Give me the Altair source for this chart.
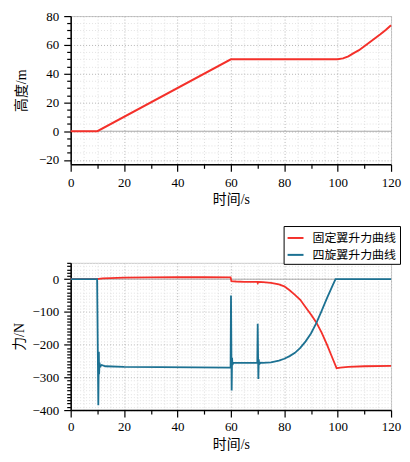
import altair as alt
import pandas as pd

# ---------------- data ----------------
t_alt = [0, 10, 60, 100, 102, 104, 106, 108, 110, 112, 114, 116, 118, 120]
h_alt = [0, 0, 50, 50, 50.6, 52.0, 54.2, 56.3, 59.0, 61.8, 64.6, 67.4, 70.4, 73.6]

series_names = ["固定翼升力曲线", "四旋翼升力曲线"]
series_colors = ["#f4302a", "#1c7192"]

t_fw = [0, 10, 10.5, 12, 15, 20, 30, 40, 50, 59.9, 60.2, 62, 65, 69.9, 70.1, 70.4,
        72, 75, 78, 80, 82, 84, 86, 88, 90, 92, 94, 96, 98, 99.6, 101, 104, 110, 120]
f_fw = [0, 0, 1, 2.5, 3.5, 4.5, 5.5, 6, 6, 5.5, -6, -7, -8, -8, -12, -8,
        -9, -11, -16, -22, -34, -48, -63, -86, -108, -132, -163, -200, -240, -272, -270, -268, -266, -265]

t_qr = [0, 9.9, 10.35, 10.55, 10.65, 10.8, 11.0, 11.6, 13, 20, 59.9, 60.05, 60.3, 60.45, 60.6,
        60.9, 62, 69.9, 70.05, 70.3, 70.45, 70.6, 71.2, 72, 75, 78, 80, 82, 84, 86, 88, 90,
        92, 94, 96, 98, 99.2, 100, 120]
f_qr = [0, 0, -385, -222, -290, -255, -268, -262, -266, -268, -270, -50, -340, -240, -262,
        -255, -256, -256, -136, -305, -245, -260, -255, -256, -254, -249, -243, -235, -225, -210, -190, -166,
        -134, -97, -58, -21, 0, 0, 0]

x_ticks = list(range(0, 121, 5))
y_ticks_top = list(range(-20, 81, 5))
y_ticks_bot = list(range(-400, 51, 10))

# ---------------- frames ----------------
df_alt = pd.DataFrame({"t": t_alt, "h": h_alt})
df_force = pd.concat([
    pd.DataFrame({"t": t_fw, "f": f_fw, "s": series_names[0]}),
    pd.DataFrame({"t": t_qr, "f": f_qr, "s": series_names[1]}),
], ignore_index=True)
df_zero = pd.DataFrame({"z": [0]})

NUM_FONT = "Liberation Serif"
TITLE_FONT = "Liberation Serif, Noto Sans CJK SC"


def x_axis(label_pad, title_pad):
    return alt.Axis(
        values=x_ticks,
        labelExpr="datum.value % 20 === 0 ? datum.label : ''",
        labelOverlap=False, labelFlush=False,
        tickSize={"condition": [{"test": "datum.value % 20 === 0", "value": 7},
                                {"test": "datum.value % 10 === 0", "value": 4}], "value": 0},
        grid=True,
        gridColor={"condition": {"test": "datum.value % 20 === 0", "value": "#b4b4b4"}, "value": "#dedede"},
        gridDash=[1, 2], gridWidth=1,
        domainColor="black", domainWidth=1.5, tickColor="black", tickWidth=1.2,
        labelFont=NUM_FONT, labelFontSize=13, labelColor="black", labelPadding=label_pad,
        title="时间/s", titleFont=TITLE_FONT, titleFontSize=14, titleFontWeight="normal",
        titleColor="black", titlePadding=title_pad,
    )


def y_axis(values, major, title, title_pad):
    return alt.Axis(
        values=values,
        labelExpr=f"datum.value % {major} === 0 ? datum.label : ''",
        labelOverlap=False, labelFlush=False,
        tickSize={"condition": {"test": f"datum.value % {major} === 0", "value": 7}, "value": 4},
        grid=True,
        gridColor={"condition": {"test": f"datum.value % {major} === 0", "value": "#b4b4b4"}, "value": "#e2e2e2"},
        gridDash=[1, 2], gridWidth=1,
        domainColor="black", domainWidth=1.5, tickColor="black", tickWidth=1.2,
        labelFont=NUM_FONT, labelFontSize=13, labelColor="black", labelPadding=5,
        title=title, titleFont=TITLE_FONT, titleFontSize=14, titleFontWeight="normal",
        titleColor="black", titlePadding=title_pad,
    )


# ---------------- top chart ----------------
xs_top = alt.X("t:Q", scale=alt.Scale(domain=[0, 120], nice=False), axis=x_axis(5, 3))
ys_top = alt.Scale(domain=[-23, 80], nice=False)
ya_top = y_axis(y_ticks_top, 20, "高度/m", 10)

top_zero = alt.Chart(df_zero).mark_rule(color="#a8a8a8", strokeWidth=1).encode(
    y=alt.Y("z:Q", scale=ys_top, axis=ya_top))
top_line = alt.Chart(df_alt).mark_line(color=series_colors[0], strokeWidth=2).encode(
    x=xs_top, y=alt.Y("h:Q", scale=ys_top, axis=ya_top))
top = alt.layer(top_zero, top_line).properties(width=322, height=149)

# ---------------- bottom chart ----------------
xs_bot = alt.X("t:Q", scale=alt.Scale(domain=[0, 120], nice=False), axis=x_axis(4, 4))
ys_bot = alt.Scale(domain=[-400, 50], nice=False)
ya_bot = y_axis(y_ticks_bot, 100, "力/N", 6)

bot_zero = alt.Chart(df_zero).mark_rule(color="#a8a8a8", strokeWidth=1).encode(
    y=alt.Y("z:Q", scale=ys_bot, axis=ya_bot))
bot_lines = alt.Chart(df_force).mark_line(strokeWidth=1.8).encode(
    x=xs_bot,
    y=alt.Y("f:Q", scale=ys_bot, axis=ya_bot),
    color=alt.Color("s:N", scale=alt.Scale(domain=series_names, range=series_colors),
                    legend=alt.Legend(orient="none", legendX=214, legendY=-37, title=None,
                                      symbolType="stroke", symbolStrokeWidth=2, symbolSize=256,
                                      labelFont="Noto Sans CJK SC", labelFontSize=12, labelColor="black",
                                      labelOffset=8, padding=3, rowPadding=2,
                                      strokeColor="black", fillColor="white")),
)
bot = alt.layer(bot_zero, bot_lines).properties(width=322, height=148)

chart = alt.vconcat(top, bot, spacing=18).resolve_scale(color="independent").resolve_legend(
    color="independent"
).properties(
    padding={"left": 3, "top": 0, "right": 0, "bottom": 0}, background="white"
).configure_view(stroke="#c8c8c8", strokeWidth=1).configure_legend(
    strokeWidth=1, cornerRadius=0
)

chart.save("out.html", embed_options={"renderer": "svg", "actions": False})
